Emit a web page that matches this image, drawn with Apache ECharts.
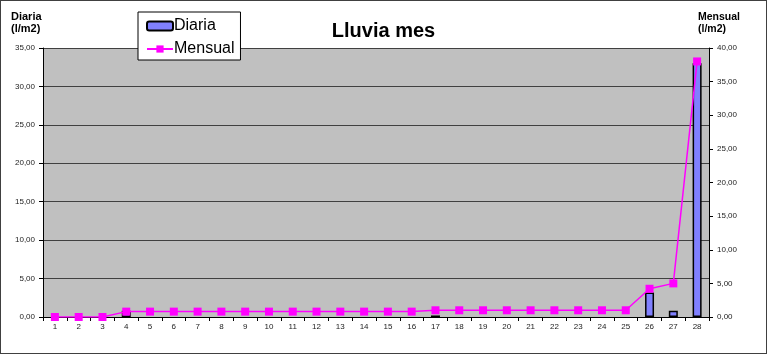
<!DOCTYPE html>
<html>
<head>
<meta charset="utf-8">
<script src="https://cdn.jsdelivr.net/npm/echarts@6/dist/echarts.min.js"></script>
<style>
  html, body { margin: 0; padding: 0; background: #fff; }
  #chart { width: 767px; height: 354px; box-sizing: border-box; border: 1px solid #404040; }
</style>
</head>
<body>
<div id="chart"></div>
<script>
// dias del mes
var dias = ['1', '2', '3', '4', '5', '6', '7', '8', '9', '10', '11', '12', '13', '14',
  '15', '16', '17', '18', '19', '20', '21', '22', '23', '24', '25', '26', '27', '28']
// lluvia diaria (l/m2)
var diaria = [0, 0, 0, 0.8, 0, 0, 0, 0, 0, 0, 0, 0, 0, 0,
  0, 0, 0.2, 0, 0, 0, 0, 0, 0, 0, 0, 3.2, 0.8, 33.0]
// acumulado mensual (l/m2)
var mensual = [0, 0, 0, 0.8, 0.8, 0.8, 0.8, 0.8, 0.8, 0.8, 0.8, 0.8, 0.8, 0.8,
  0.8, 0.8, 1.0, 1.0, 1.0, 1.0, 1.0, 1.0, 1.0, 1.0, 1.0, 4.2, 5.0, 38.0]

function fmt (v) {
  return v.toFixed(2).replace('.', ',')
}

var myChart = echarts.init(document.getElementById('chart'))
myChart.setOption({
  animation: false,
  textStyle: { fontFamily: 'Liberation Sans, Arial, sans-serif' },
  title: {
    text: 'Lluvia mes',
    left: 'center',
    top: 15,
    textStyle: { fontSize: 20, fontWeight: 'bold', color: '#000' }
  },
  legend: {
    orient: 'vertical',
    left: 137,
    top: 11,
    padding: [6, 6, 3, 8],
    itemGap: 7,
    itemWidth: 26,
    itemHeight: 9,
    backgroundColor: '#fff',
    borderColor: '#000',
    borderWidth: 1,
    textStyle: { fontSize: 16, color: '#000', padding: [0, 0, 0, -4] },
    data: ['Diaria', 'Mensual']
  },
  graphic: [
    { type: 'text', left: 10, top: 10, style: { text: 'Diaria\n(l/m2)', fontSize: 11, fontWeight: 'bold', lineHeight: 12, fill: '#000', align: 'center' } },
    { type: 'text', right: 26, top: 10, style: { text: 'Mensual\n(l/m2)', fontSize: 10.5, fontWeight: 'bold', lineHeight: 12, fill: '#000', align: 'center' } }
  ],
  grid: {
    left: 42,
    right: 57,
    top: 47,
    bottom: 36,
    show: true,
    backgroundColor: '#c0c0c0',
    borderWidth: 0
  },
  xAxis: {
    type: 'category',
    data: dias,
    axisLine: { lineStyle: { color: '#000', width: 1 } },
    axisTick: { show: true, inside: false, length: 4, lineStyle: { color: '#000' } },
    axisLabel: { fontSize: 8, color: '#222', margin: 6 }
  },
  yAxis: [{
    type: 'value',
    min: 0,
    max: 35,
    interval: 5,
    axisLine: { show: true, lineStyle: { color: '#000' } },
    axisTick: { show: true, length: 4, lineStyle: { color: '#000' } },
    axisLabel: { fontSize: 8, color: '#222', margin: 8, formatter: fmt },
    splitLine: { lineStyle: { color: '#404040', width: 1 } }
  }, {
    type: 'value',
    min: 0,
    max: 40,
    interval: 5,
    position: 'right',
    axisLine: { show: true, lineStyle: { color: '#000' } },
    axisTick: { show: true, length: 4, lineStyle: { color: '#000' } },
    axisLabel: { fontSize: 8, color: '#222', margin: 8, formatter: fmt },
    splitLine: { show: false }
  }],
  series: [{
    name: 'Diaria',
    type: 'bar',
    yAxisIndex: 0,
    barWidth: 9,
    // los dias sin lluvia no dibujan barra
    data: diaria.map(function (v) { return v === 0 ? '-' : v }),
    itemStyle: { color: '#8080ff', borderColor: '#000', borderWidth: 1.5 }
  }, {
    name: 'Mensual',
    type: 'line',
    yAxisIndex: 1,
    data: mensual,
    symbol: 'rect',
    symbolSize: 8,
    lineStyle: { color: '#ff00ff', width: 1.5 },
    itemStyle: { color: '#ff00ff' }
  }]
}, true)
</script>
</body>
</html>
